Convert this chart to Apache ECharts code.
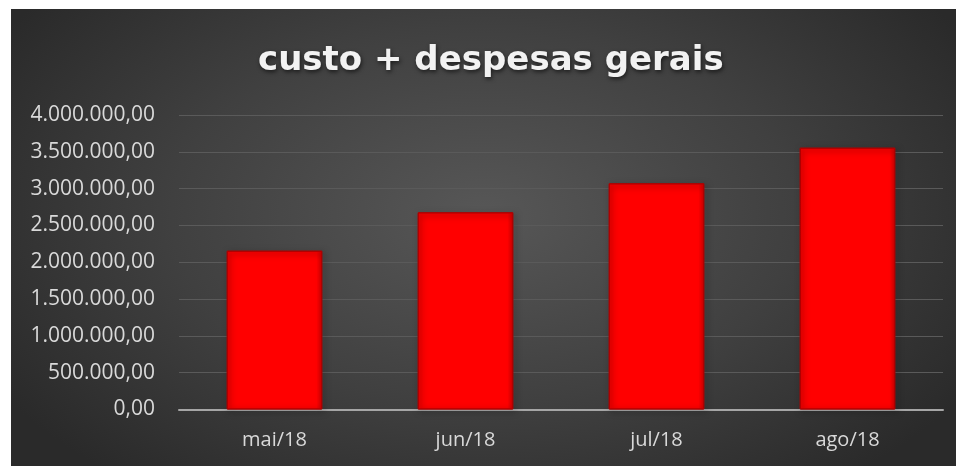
<!DOCTYPE html>
<html>
<head>
<meta charset="utf-8">
<script src="https://cdn.jsdelivr.net/npm/echarts@6/dist/echarts.min.js"></script>
<style>
  html, body { margin: 0; padding: 0; background: #fff; }
  #chart {
    position: absolute;
    left: 11px;
    top: 9px;
    width: 945px;
    height: 457px;
    background: radial-gradient(ellipse 60% 75% at 50% 45%, #575757 0%, #404040 55%, #2a2a2a 100%);
  }
</style>
</head>
<body>
<div id="chart"></div>
<script>
  // dados
  const meses = ['mai/18', 'jun/18', 'jul/18', 'ago/18'];
  const custos = [2157000, 2678000, 3072000, 3556000];

  function formatBR(v) {
    const inteiro = Math.floor(v).toString().replace(/\B(?=(\d{3})+(?!\d))/g, '.');
    return inteiro + ',00';
  }

  const charts = echarts.init(document.getElementById('chart'));
  charts.setOption({
    title: {
      text: 'custo + despesas gerais',
      left: 242,
      top: 30,
      padding: 5,
      textStyle: {
        color: '#f2f2f2',
        fontFamily: 'DejaVu Sans',
        fontWeight: 'bold',
        fontSize: 34,
        textShadowColor: 'rgba(0,0,0,0.6)',
        textShadowBlur: 4,
        textShadowOffsetX: 1,
        textShadowOffsetY: 2
      }
    },
    grid: {
      left: 168,
      right: 13,
      top: 106,
      bottom: 56.5
    },
    xAxis: {
      type: 'category',
      data: meses,
      axisTick: { show: false },
      axisLine: { lineStyle: { color: '#a6a6a6', width: 2 } },
      axisLabel: {
        color: '#d9d9d9',
        fontFamily: 'Open Sans',
        fontSize: 20,
        margin: 21
      }
    },
    yAxis: {
      type: 'value',
      min: 0,
      max: 4000000,
      interval: 500000,
      axisLine: { show: false },
      axisTick: { show: false },
      splitLine: { lineStyle: { color: '#5a5a5a', width: 1 } },
      axisLabel: {
        color: '#d9d9d9',
        fontFamily: 'Open Sans',
        fontSize: 21,
        margin: 24,
        formatter: formatBR
      }
    },
    series: [
      {
        type: 'bar',
        data: custos,
        barWidth: '50%',
        itemStyle: {
          color: {
            type: 'linear', x: 0, y: 0, x2: 1, y2: 0,
            colorStops: [
              { offset: 0, color: '#f00000' },
              { offset: 0.06, color: '#ff0000' },
              { offset: 0.94, color: '#ff0000' },
              { offset: 1, color: '#d00000' }
            ]
          },
          borderColor: '#b00000',
          borderWidth: 1,
          shadowColor: 'rgba(0,0,0,0.5)',
          shadowBlur: 6,
          shadowOffsetX: 2,
          shadowOffsetY: 2
        }
      }
    ]
  });
</script>
</body>
</html>
